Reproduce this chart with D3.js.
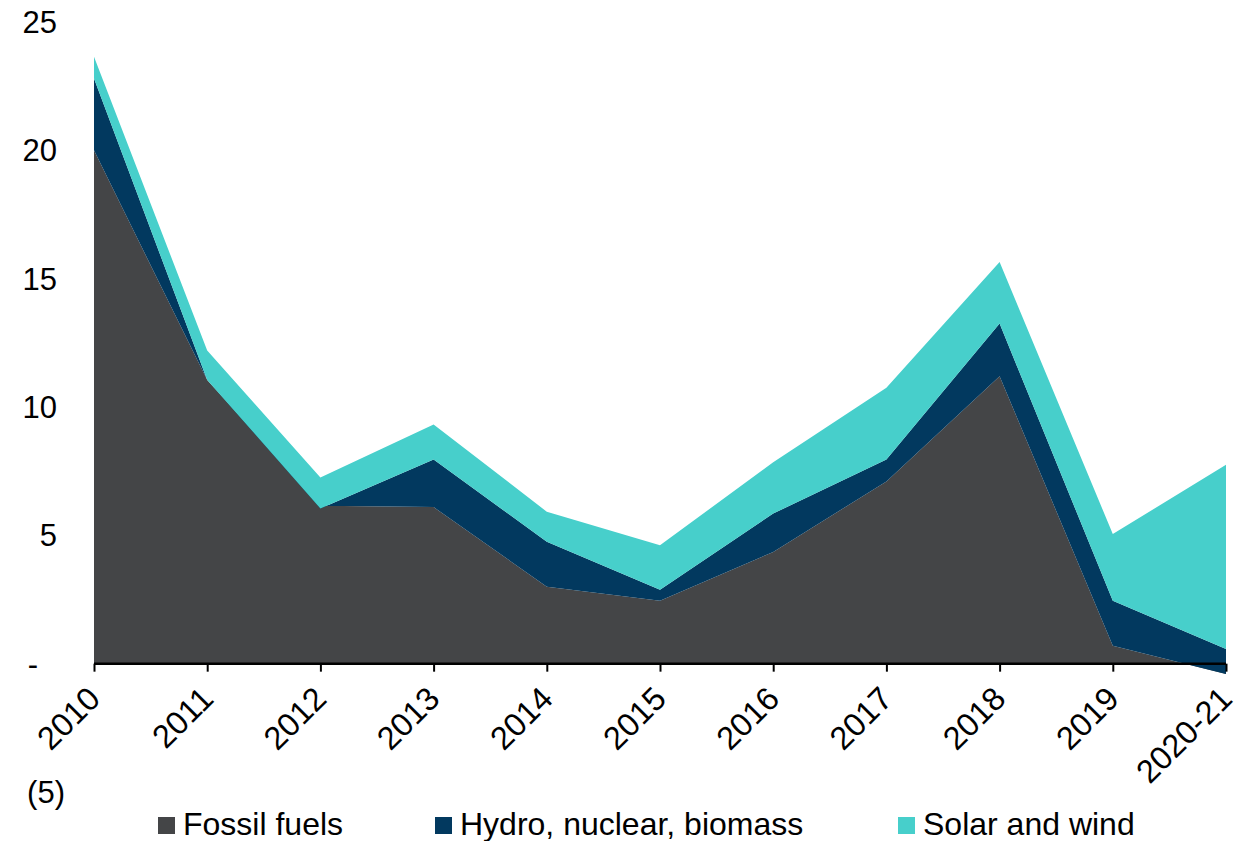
<!DOCTYPE html>
<html>
<head>
<meta charset="utf-8">
<script src="https://cdn.jsdelivr.net/npm/d3@7"></script>
<style>
  body { margin: 0; background: #fff; }
  text { font-family: "Liberation Sans", Arial, sans-serif; fill: #000; }
</style>
</head>
<body>
<svg id="chart"></svg>
<script>
var years = ["2010","2011","2012","2013","2014","2015","2016","2017","2018","2019","2020-21"];
var fossil = [20.0, 11.05, 6.15, 6.1, 3.0, 2.45, 4.35, 7.1, 11.2, 0.7, -0.4];
var hydro  = [2.8, 0.0, -0.1, 1.85, 1.75, 0.43, 1.5, 0.85, 2.05, 1.75, 0.97];
var solar  = [0.85, 1.15, 1.2, 1.37, 1.17, 1.73, 2.0, 2.8, 2.4, 2.6, 7.18];
var seriesNames = ["Fossil fuels", "Hydro, nuclear, biomass", "Solar and wind"];
var seriesColors = ["#444547", "#02395f", "#47cfcb"];
var yTicks = [25, 20, 15, 10, 5, 0, -5];
var yTickLabels = ["25", "20", "15", "10", "5", "-", "(5)"];

var width = 1245, height = 841;
var svg = d3.select("#chart").attr("width", width).attr("height", height);

var x = d3.scalePoint().domain(years).range([94, 1226]);
var y = d3.scaleLinear().domain([-5, 25]).range([792, 22]);

var rows = years.map(function(yr, i){
    return {year: yr, s0: fossil[i], s1: hydro[i], s2: solar[i]};
});
var stack = d3.stack().keys(["s0","s1","s2"]);
var layers = stack(rows);

var area = d3.area()
    .x(function(d){ return x(d.data.year); })
    .y0(function(d){ return y(d[0]); })
    .y1(function(d){ return y(d[1]); });

svg.selectAll(".layer")
    .data(layers)
    .enter().append("path")
    .attr("class", "layer")
    .attr("d", area)
    .attr("fill", function(d, i){ return seriesColors[i]; });

// x axis along zero
var xAxis = svg.append("g")
    .attr("transform", "translate(0," + y(0) + ")")
    .call(d3.axisBottom(x).tickSize(8).tickSizeOuter(0).tickFormat(""));
xAxis.select(".domain").attr("stroke", "#000").attr("stroke-width", 2.5)
    .attr("d", "M" + x(years[0]) + ",0H" + x(years[years.length-1]));
xAxis.selectAll(".tick line").attr("stroke", "#000").attr("stroke-width", 2);

svg.selectAll(".xlab")
    .data(years)
    .enter().append("text")
    .attr("class", "xlab")
    .attr("transform", function(d){ return "translate(" + (x(d) + 8) + "," + (y(0) + 37) + ") rotate(-45)"; })
    .attr("text-anchor", "end")
    .attr("font-size", 32.5)
    .text(function(d){ return d; });

// y labels (accounting style)
var yOffsets = {"-": 38, "(5)": 65};
svg.selectAll(".ylab")
    .data(yTicks)
    .enter().append("text")
    .attr("class", "ylab")
    .attr("x", function(d, i){ return yOffsets[yTickLabels[i]] || 57; })
    .attr("y", function(d){ return y(d); })
    .attr("dy", "0.36em")
    .attr("text-anchor", "end")
    .attr("font-size", 31)
    .text(function(d, i){ return yTickLabels[i]; });

// legend
var legendX = [158, 435, 898];
var leg = svg.selectAll(".leg")
    .data(seriesNames)
    .enter().append("g")
    .attr("class", "leg")
    .attr("transform", function(d, i){ return "translate(" + legendX[i] + ",817)"; });
leg.append("rect")
    .attr("width", 17).attr("height", 17)
    .attr("fill", function(d, i){ return seriesColors[i]; });
leg.append("text")
    .attr("x", 25).attr("y", 18)
    .attr("font-size", 32)
    .text(function(d){ return d; });
</script>
</body>
</html>
